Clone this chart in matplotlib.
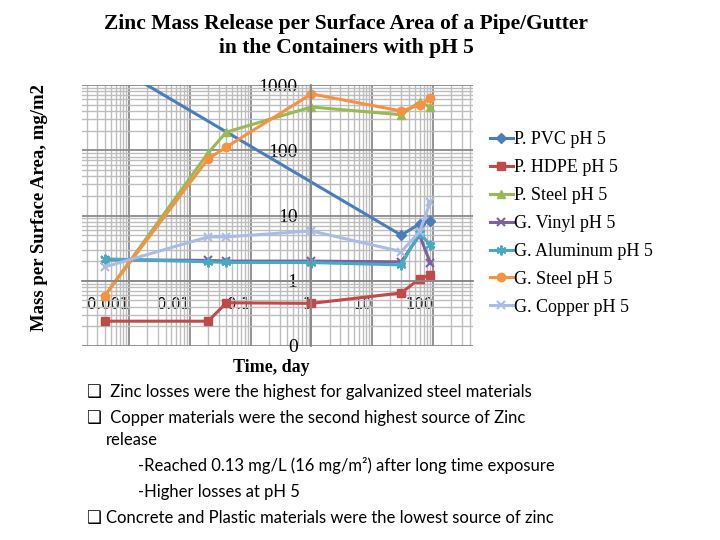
import matplotlib
matplotlib.use('Agg')
import matplotlib.pyplot as plt
from matplotlib.ticker import LogLocator, FixedLocator, FuncFormatter, NullFormatter

# sampling times, days
days = [0.0004, 0.02, 0.04, 1, 30, 60, 90]
pvc_days = [0.0004, 30, 60, 90]

# zinc mass release per surface area, mg/m2
pvc = [2400, 5.0, 7.4, 8.3]
hdpe = [0.24, 0.24, 0.46, 0.45, 0.65, 1.07, 1.23]
p_steel = [0.59, 91, 190, 460, 350, 550, 460]
vinyl = [2.1, 2.05, 2.0, 2.0, 1.95, 5.0, 1.9]
aluminum = [2.16, 1.95, 1.91, 1.9, 1.75, 5.4, 3.55]
g_steel = [0.59, 74, 112, 730, 400, 490, 630]
copper = [1.63, 4.7, 4.7, 5.8, 2.8, 5.6, 16]

x_ticks = [0.001, 0.01, 0.1, 1, 10, 100]
y_ticks = [0.1, 1, 10, 100, 1000]

bullets = [
    (' Zinc losses were the highest for galvanized steel materials', True, 0),
    (' Copper materials were the second highest source of Zinc', True, 0),
    ('release', False, 0),
    ('-Reached 0.13 mg/L (16 mg/m²) after long time exposure', False, 1),
    ('-Higher losses at pH 5', False, 1),
    ('Concrete and Plastic materials were the lowest source of zinc', True, 0),
]

serif = 'Liberation Serif'

fig = plt.figure(figsize=(7.2, 5.4), dpi=100)
ax = fig.add_axes([82 / 720, 1 - 346 / 540, (473 - 82) / 720, (346 - 85) / 540])

ax.set_xscale('log')
ax.set_yscale('log')
ax.set_xlim(10 ** -3.773, 10 ** 2.658)
ax.set_ylim(0.1, 1000)

ax.plot(pvc_days, pvc, color='#4A7EBB', marker='D', ms=5, lw=2.2, label='P. PVC pH 5')
ax.plot(days, hdpe, color='#BE4B48', marker='s', ms=6, lw=2.2, label='P. HDPE pH 5')
ax.plot(days, p_steel, color='#98B954', marker='^', ms=6, lw=2.2, label='P. Steel pH 5')
ax.plot(days, vinyl, color='#7D60A0', marker='x', ms=6, mew=1.5, lw=2.2, label='G. Vinyl pH 5')
ax.plot(days, aluminum, color='#46AAC5', marker=(6, 2, 0), ms=7, mew=1.5, lw=2.2,
        label='G. Aluminum pH 5')
ax.plot(days, g_steel, color='#F69240', marker='o', ms=6, lw=2.2, label='G. Steel pH 5')
ax.plot(days, copper, color='#A9BCE2', marker='x', ms=6, mew=1.5, lw=2.2, label='G. Copper pH 5')

# Excel style axes crossing at x=1 and y=1
for side in ['top', 'right']:
    ax.spines[side].set_visible(False)
ax.spines['left'].set_position(('data', 1))
ax.spines['bottom'].set_position(('data', 1))
for side in ['left', 'bottom']:
    ax.spines[side].set_color('#8a8a8a')
    ax.spines[side].set_linewidth(1.3)

ax.xaxis.set_major_locator(FixedLocator(x_ticks))
ax.yaxis.set_major_locator(FixedLocator(y_ticks))
ax.xaxis.set_minor_locator(LogLocator(base=10, subs=range(2, 10), numticks=20))
ax.yaxis.set_minor_locator(LogLocator(base=10, subs=range(2, 10), numticks=20))
ax.xaxis.set_minor_formatter(NullFormatter())
ax.yaxis.set_minor_formatter(NullFormatter())
ax.xaxis.set_major_formatter(FuncFormatter(lambda v, p: '{:g}'.format(v)))
ax.yaxis.set_major_formatter(FuncFormatter(lambda v, p: '{:.0f}'.format(v)))
ax.tick_params(which='both', length=0)
ax.tick_params(axis='x', which='major', pad=12, labelsize=10.5)
ax.tick_params(axis='y', which='major', pad=10, labelsize=14)
for lab in ax.get_yticklabels():
    lab.set_family(serif)
for lab in ax.get_xticklabels():
    lab.set_horizontalalignment('right')

ax.grid(True, which='major', color='#8a8a8a', lw=1.3)
ax.grid(True, which='minor', color='#bdbdbd', lw=1.0)
ax.set_axisbelow(True)

ax.legend(loc='center left', bbox_to_anchor=(481 / 720, 1 - 223.5 / 540),
          bbox_transform=fig.transFigure, frameon=False, borderpad=0,
          handlelength=1.25, handletextpad=0.1, labelspacing=0.6,
          prop={'family': serif, 'size': 13})

fig.text(0.481, 1 - 36 / 540, 'Zinc Mass Release per Surface Area of a Pipe/Gutter\nin the Containers with pH 5',
         ha='center', va='center', family=serif, weight='bold', fontsize=15.5, linespacing=1.25)
fig.text(40 / 720, 1 - 208 / 540, 'Mass per Surface Area, mg/m2', rotation=90,
         ha='center', va='center', family=serif, weight='bold', fontsize=13.5)
fig.text(271 / 720, 1 - 367 / 540, 'Time, day', ha='center', va='center',
         family=serif, weight='bold', fontsize=13)

# bullet notes under the chart
y0 = 392
steps = [0, 26, 22, 26, 26, 26]
for (line, box, indent), dy in zip(bullets, steps):
    y0 += dy
    yf = 1 - y0 / 540
    if box:
        fig.text(93 / 720, yf, '❑', ha='center', va='center', family='DejaVu Sans', fontsize=12)
    x = 106 if indent == 0 else 138
    fig.text(x / 720, yf, line, ha='left', va='center', family=['Lato', 'DejaVu Sans'], fontsize=12)

fig.savefig('out.png', dpi=100)
